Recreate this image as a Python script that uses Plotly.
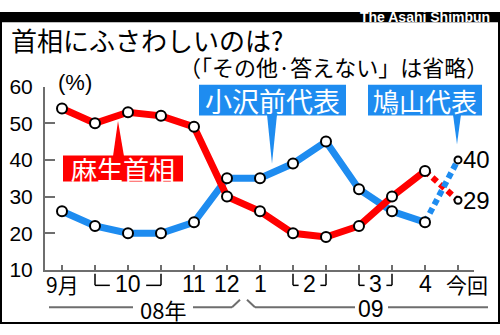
import plotly.graph_objects as go

# ---- data ----
survey_labels = ["9月", "10", "10", "10", "11", "12", "1", "2", "2", "3", "3", "4", "今回"]
year_labels = ["08年", "09"]
aso = [54, 50, 53, 52, 49, 30, 26, 20, 19, 22, 30, 37, 29]          # 麻生首相
ozawa_hatoyama = [26, 22, 20, 20, 23, 35, 35, 39, 45, 32, 26, 23, 40]  # 小沢前代表 -> 鳩山代表
y_ticks = [10, 20, 30, 40, 50, 60]

W, H = 500, 335
RED = "#ff0000"
BLUE = "#1e8cf0"
GREY = "#6e6e6e"
JP = "Noto Sans CJK JP"
NUM = "Liberation Sans, Arial"


def px(x):
    return x / W


def py(y):
    return 1 - y / H


n = len(survey_labels)
xs = list(range(n))
last = n - 1

fig = go.Figure()

# solid lines (up to the previous survey)
fig.add_trace(go.Scatter(x=xs[:last], y=ozawa_hatoyama[:last], mode="lines",
                         line=dict(color=BLUE, width=7), hoverinfo="skip"))
fig.add_trace(go.Scatter(x=xs[:last], y=aso[:last], mode="lines",
                         line=dict(color=RED, width=7), hoverinfo="skip"))
# dotted to the latest survey
fig.add_trace(go.Scatter(x=xs[last - 1:], y=aso[last - 1:], mode="lines",
                         line=dict(color=RED, width=6, dash="6px,4px"), hoverinfo="skip"))
fig.add_trace(go.Scatter(x=xs[last - 1:], y=ozawa_hatoyama[last - 1:], mode="lines",
                         line=dict(color=BLUE, width=6, dash="6px,4px"), hoverinfo="skip"))
# markers
for series in (ozawa_hatoyama, aso):
    fig.add_trace(go.Scatter(x=xs[:last], y=series[:last], mode="markers",
                             marker=dict(size=10, color="white", line=dict(color="black", width=2)),
                             cliponaxis=False, hoverinfo="skip"))
    fig.add_trace(go.Scatter(x=xs[last:], y=series[last:], mode="markers",
                             marker=dict(size=7, color="white", line=dict(color="black", width=2)),
                             cliponaxis=False, hoverinfo="skip"))

shapes = []
annotations = []

# frame & top band
shapes.append(dict(type="rect", xref="paper", yref="paper", x0=px(0), x1=px(W), y0=py(0), y1=py(11),
                   fillcolor="black", line=dict(width=0), layer="below"))
shapes.append(dict(type="rect", xref="paper", yref="paper", x0=px(1), x1=px(W - 1), y0=py(1), y1=py(H - 1),
                   line=dict(color="black", width=2), fillcolor="rgba(0,0,0,0)"))
annotations.append(dict(text="<b>The Asahi Shimbun</b>", xref="paper", yref="paper", x=px(492), y=py(5.5),
                        xanchor="right", yanchor="middle", showarrow=False,
                        font=dict(family="Liberation Sans, Arial", size=14, color="white")))
annotations.append(dict(text="首相にふさわしいのは?", xref="paper", yref="paper", x=px(9), y=py(29),
                        xanchor="left", yanchor="middle", showarrow=False,
                        font=dict(family=JP, size=26, color="black")))
annotations.append(dict(text="（「その他·答えない」は省略）", xref="paper", yref="paper", x=px(490), y=py(58),
                        xanchor="right", yanchor="middle", showarrow=False,
                        font=dict(family=JP, size=22, color="black")))
annotations.append(dict(text="(%)", xref="paper", yref="paper", x=px(56), y=py(76),
                        xanchor="left", yanchor="middle", showarrow=False,
                        font=dict(family=NUM, size=22, color="black")))

# x labels (group consecutive equal labels)
groups = []
for i, lab in enumerate(survey_labels):
    if groups and groups[-1][0] == lab:
        groups[-1][2] = i
    else:
        groups.append([lab, i, i])
for lab, i0, i1 in groups:
    xc = (i0 + i1) / 2
    is_jp = lab in ("9月", "今回")
    shift = 9 if lab == "今回" else 0
    annotations.append(dict(text=lab, xref="x", yref="paper", x=xc, y=py(292), xshift=shift,
                            xanchor="center", yanchor="middle", showarrow=False, borderpad=0,
                            font=dict(family=JP if is_jp else NUM, size=21 if is_jp else 23, color="black")))
    if i1 > i0:
        half = 0.55 if (i1 - i0) >= 2 else 0.33
        for xa, xb, xv in ((i0, xc - half, i0), (xc + half, i1, i1)):
            shapes.append(dict(type="line", xref="x", yref="paper", x0=xa, x1=xb, y0=py(293.5), y1=py(293.5),
                               line=dict(color="black", width=1.5)))
            shapes.append(dict(type="line", xref="x", yref="paper", x0=xv, x1=xv, y0=py(281), y1=py(293.5),
                               line=dict(color="black", width=1.5)))

# year row
annotations.append(dict(text=year_labels[0], xref="paper", yref="paper", x=px(163), y=py(319),
                        xanchor="center", yanchor="middle", showarrow=False, borderpad=0,
                        font=dict(family=JP, size=22, color="black")))
annotations.append(dict(text=year_labels[1], xref="paper", yref="paper", x=px(371), y=py(319),
                        xanchor="center", yanchor="middle", showarrow=False, borderpad=0,
                        font=dict(family=NUM, size=23, color="black")))
for x0, y0, x1, y1 in ((49, 317, 133, 317), (193, 317, 232, 317), (232, 317, 240, 309),
                       (247, 309, 255, 317), (255, 317, 355, 317), (388, 317, 488, 317)):
    shapes.append(dict(type="line", xref="paper", yref="paper", x0=px(x0), x1=px(x1), y0=py(y0), y1=py(y1),
                       line=dict(color=GREY, width=2)))


# callouts
def callout(text, color, box, tip, base, size):
    bx0, by0, bx1, by1 = box
    shapes.append(dict(type="rect", xref="paper", yref="paper", x0=px(bx0), x1=px(bx1), y0=py(by0), y1=py(by1),
                       fillcolor=color, line=dict(width=0)))
    (tx, ty), (b0, b1, byy) = tip, base
    path = f"M {px(b0)} {py(byy)} L {px(tx)} {py(ty)} L {px(b1)} {py(byy)} Z"
    shapes.append(dict(type="path", xref="paper", yref="paper", path=path, fillcolor=color, line=dict(width=0)))
    annotations.append(dict(text=text, xref="paper", yref="paper", x=px((bx0 + bx1) / 2), y=py((by0 + by1) / 2),
                            xanchor="center", yanchor="middle", showarrow=False,
                            font=dict(family=JP, size=size, color="white")))


callout("麻生首相", RED, (63, 154, 183, 182), (118, 117), (113, 124, 155), 26)
callout("小沢前代表", BLUE, (199, 78, 346, 111), (272, 163), (267, 277, 110), 27)
callout("鳩山代表", BLUE, (368, 78, 482, 111), (457, 142), (453, 461, 110), 26)

# end values
for series in (ozawa_hatoyama, aso):
    annotations.append(dict(text=str(series[last]), xref="x", yref="y", x=last, y=series[last],
                            xanchor="left", yanchor="middle", xshift=3, showarrow=False,
                            font=dict(family=NUM, size=24, color="black")))

fig.update_layout(
    width=W, height=H, margin=dict(l=0, r=0, t=0, b=0),
    paper_bgcolor="white", plot_bgcolor="white", showlegend=False,
    shapes=shapes, annotations=annotations,
    xaxis=dict(domain=[px(45), px(474)], range=[-0.515, 12.485], tickvals=xs, ticktext=[""] * n,
               ticks="inside", ticklen=5, tickwidth=2, tickcolor=GREY, showline=True, linecolor=GREY,
               linewidth=2, showgrid=False, zeroline=False, fixedrange=True),
    yaxis=dict(domain=[py(277), py(80)], range=[10, 60], tickvals=y_ticks, ticks="inside", ticklen=10,
               tickwidth=2, tickcolor=GREY, showline=True, linecolor=GREY, linewidth=2, showgrid=False,
               zeroline=False, tickfont=dict(family="Liberation Sans, Arial", size=21, color="black"),
               ticklabelstandoff=6, fixedrange=True),
)

fig.write_html("out.html", config={"displayModeBar": False})
